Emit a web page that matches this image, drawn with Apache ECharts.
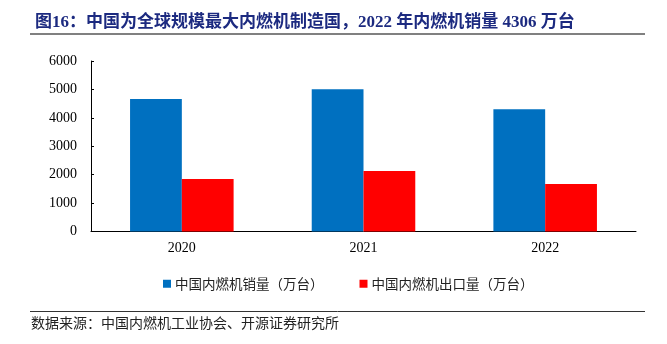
<!DOCTYPE html>
<html>
<head>
<meta charset="utf-8">
<script src="https://cdn.jsdelivr.net/npm/echarts@6/dist/echarts.min.js"></script>
<style>html,body{margin:0;padding:0;background:#fff;}#c{width:667px;height:344px;}</style>
</head>
<body>
<div id="c"></div>
<script>
const categories = ['2020', '2021', '2022'];
const salesName = '中国内燃机销量（万台）';
const exportName = '中国内燃机出口量（万台）';
const salesValues = [4660, 5010, 4306];
const exportValues = [1850, 2130, 1670];
const yTicks = { min: 0, max: 6000, interval: 1000 };
const titleText = '图16：中国为全球规模最大内燃机制造国，2022 年内燃机销量 4306 万台';
const sourceText = '数据来源：中国内燃机工业协会、开源证券研究所';

const serif = '"Liberation Serif", "Noto Sans CJK SC", serif';
const cjk = '"Noto Sans CJK SC", sans-serif';
const chart = echarts.init(document.getElementById('c'), null, { renderer: 'canvas' });
chart.setOption({
  animation: false,
  backgroundColor: '#fff',
  title: {
    text: titleText,
    left: 30, top: 9,
    textStyle: { fontFamily: serif, fontSize: 17, fontWeight: 'bold', color: '#1c2a80' }
  },
  graphic: [
    { type: 'line', shape: { x1: 30, y1: 34, x2: 645, y2: 34 }, style: { stroke: '#808080', lineWidth: 2 } },
    { type: 'line', shape: { x1: 30, y1: 311.5, x2: 645, y2: 311.5 }, style: { stroke: '#333', lineWidth: 1 } },
    { type: 'text', left: 31, top: 316, style: { text: sourceText, font: '14px ' + cjk, fill: '#222' } }
  ],
  legend: {
    left: 158, top: 272,
    itemWidth: 8, itemHeight: 8, itemGap: 36,
    icon: 'rect',
    textStyle: { fontFamily: cjk, fontSize: 13.5, color: '#222', padding: [0, 0, 0, -1] },
    data: [salesName, exportName]
  },
  grid: { left: 91, right: 31, top: 61, bottom: 112.5, containLabel: false },
  xAxis: {
    type: 'category', data: categories,
    axisLine: { lineStyle: { color: '#000', width: 1 } },
    axisTick: { inside: true, length: 4, lineStyle: { color: '#000' } },
    axisLabel: { fontFamily: serif, fontSize: 14, color: '#000', margin: 10 }
  },
  yAxis: {
    type: 'value', min: yTicks.min, max: yTicks.max, interval: yTicks.interval,
    splitLine: { show: false },
    axisLine: { show: true, lineStyle: { color: '#000', width: 1 } },
    axisTick: { show: true, inside: true, length: 3, lineStyle: { color: '#000' } },
    axisLabel: { fontFamily: serif, fontSize: 14, color: '#000', margin: 14, formatter: function (v) { return String(v); } }
  },
  series: [
    { name: salesName, type: 'bar', data: salesValues, barGap: '0%', barCategoryGap: '43%', itemStyle: { color: '#0070C0' } },
    { name: exportName, type: 'bar', data: exportValues, barGap: '0%', barCategoryGap: '43%', itemStyle: { color: '#FF0000' } }
  ]
});
</script>
</body>
</html>
